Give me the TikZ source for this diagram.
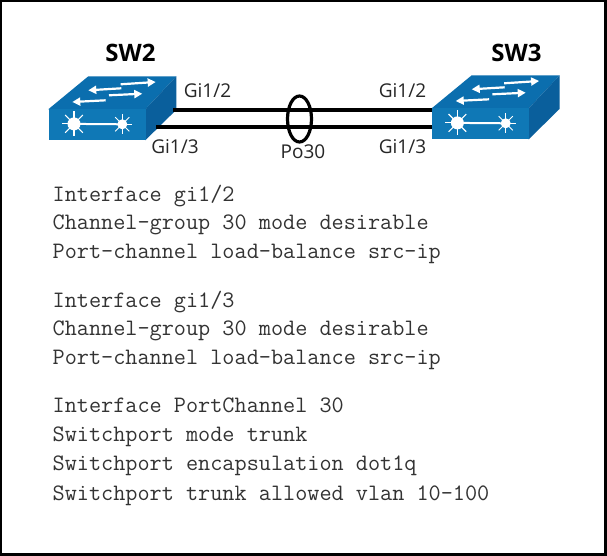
\documentclass[tikz,border=0pt]{standalone}
\usepackage{fontspec}
\setmainfont{Open Sans}
\usetikzlibrary{arrows.meta,shapes.geometric}
\definecolor{swfront}{HTML}{0F78B6}
\definecolor{swtop}{HTML}{0B6EAE}
\definecolor{swside}{HTML}{0A5F9C}
\tikzset{
	port/.style={font=\fontsize{19}{19}\selectfont, inner sep=0pt, text=black!85},
	config/.style={font=\ttfamily\fontsize{23.55}{23.55}\selectfont, anchor=base west, inner sep=0pt, text=black!80},
	swname/.style={font=\bfseries\fontsize{24}{24}\selectfont, inner sep=0pt},
	trunk/.style={line width=3.2pt},
	swface/.style={fill=swfront, minimum width=97pt, minimum height=31pt, inner sep=0pt, anchor=north west},
	flow/.style={white, line width=2.2pt, -{Triangle[length=8pt,width=8pt]}},
}
\newcommand{\switchbody}[3]{%
	\begin{scope}[shift={(#2,#3)}]
		\fill[swtop] (0,0) -- (40,-33) -- (128,-33) -- (97,0) -- cycle;
		\fill[swside] (97,0) -- (128,-33) -- (128,0.5) -- (97,31) -- cycle;
		\node[swface] (#1) at (0,0) {};
		% arrows on top
		\draw[flow] (72.4,-25) -- (107.4,-27.3);
		\draw[flow] (73,-21) -- (40,-19);
		\draw[flow] (60.7,-14) -- (94,-15.6);
		\draw[flow] (57.4,-9) -- (24,-7.3);
		% stars on the front
		\draw[white, line width=2pt] (25.7,14.6) -- (74,15);
		\foreach \a in {0,45,...,315}{
			\draw[white, line width=1.1pt] (25.7,14.6) -- ++(\a:12.5);
			\draw[white, line width=0.9pt] (74,15) -- ++(\a:10);
		}
		\fill[white] (25.7,14.6) circle(6.5);
		\fill[white] (74,15) circle(5);
	\end{scope}
}

\begin{document}
\begin{tikzpicture}[x=1pt,y=-1pt]
	\useasboundingbox (0,0) rectangle (607,556);
	\fill[white] (0,0) rectangle (607,556);
	\draw[line width=3pt] (0.5,0.5) rectangle (605,554.5);

	\switchbody{sw2}{48.3}{109.3}
	\switchbody{sw3}{431.7}{108.3}

	\node[swname] (sw2name) at (130.5,53) {SW2};
	\node[swname] (sw3name) at (516.5,53) {SW3};

	%-------------------------------------
	\coordinate (sw2up) at (173,110);
	\coordinate (sw2low) at (156,127);
	\coordinate (sw3up) at (431.7,110);
	\coordinate (sw3low) at (431.7,127);
	\draw[trunk] (sw2up) -- (sw3up);
	\draw[trunk] (sw2low) -- (sw3low);

	\node[draw, ellipse, trunk, minimum width=24pt, minimum height=46pt, inner sep=0pt] (po) at (299.5,119) {};

	\node[port] (gi2l) at (207.5,91) {Gi1/2};
	\node[port] (gi3l) at (175,147) {Gi1/3};
	\node[port] (gi2r) at (402.5,91) {Gi1/2};
	\node[port] (gi3r) at (402.5,147) {Gi1/3};
	\node[port] (poname) at (303,152) {Po30};

	%-------------------------------------
	\node[config] (c1) at (52.5,201) {Interface gi1/2};
	\node[config] (c2) at (52.5,229) {Channel-group 30 mode desirable};
	\node[config] (c3) at (52.5,258) {Port-channel load-balance src-ip};
	\node[config] (c4) at (52.5,307) {Interface gi1/3};
	\node[config] (c5) at (52.5,335) {Channel-group 30 mode desirable};
	\node[config] (c6) at (52.5,364) {Port-channel load-balance src-ip};
	\node[config] (c7) at (52.5,412) {Interface PortChannel 30};
	\node[config] (c8) at (52.5,441) {Switchport mode trunk};
	\node[config] (c9) at (52.5,470) {Switchport encapsulation dot1q};
	\node[config] (c10) at (52.5,500) {Switchport trunk allowed vlan 10-100};
\end{tikzpicture}
\end{document}
